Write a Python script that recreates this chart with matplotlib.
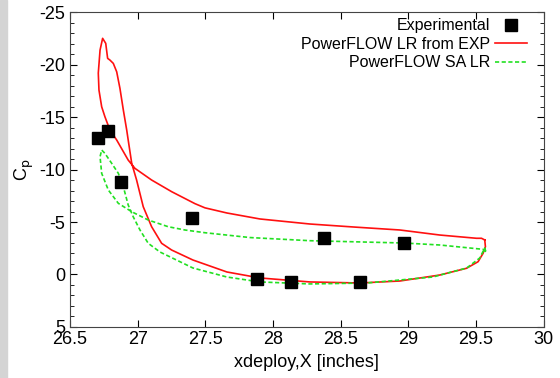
import matplotlib
matplotlib.use("Agg")
import matplotlib.pyplot as plt
from matplotlib.patches import Rectangle
import numpy as np

plt.rcParams['font.family'] = ['Liberation Sans', 'DejaVu Sans']
plt.rcParams['axes.unicode_minus'] = False

# experimental Cp points
exp_x = [26.707, 26.78, 26.877, 27.40, 27.88, 28.13, 28.38, 28.64, 28.97]
exp_cp = [-13.0, -13.67, -8.8, -5.38, 0.43, 0.71, -3.48, 0.71, -3.0]

# PowerFLOW LR from EXP (closed loop, TE -> upper -> LE -> lower -> TE)
lr_x = [29.564, 29.540, 29.503, 29.232, 28.937, 28.600, 28.272, 27.903, 27.659,
        27.497, 27.423, 27.251, 27.103, 26.980, 26.930, 26.845, 26.795, 26.758,
        26.734, 26.714, 26.709, 26.722, 26.741, 26.764, 26.778, 26.795, 26.820,
        26.845, 26.857, 26.869, 26.894, 26.919, 26.930, 26.956, 26.992, 27.041,
        27.103, 27.177, 27.251, 27.408, 27.659, 27.903, 28.272, 28.641, 28.937,
        29.232, 29.429, 29.515, 29.552, 29.569, 29.564]
lr_cp = [-3.29, -3.45, -3.45, -3.76, -4.24, -4.52, -4.81, -5.29, -5.86,
         -6.35, -6.75, -7.89, -9.0, -10.11, -10.90, -12.81, -13.76, -15.03,
         -15.98, -17.57, -19.19, -21.38, -22.50, -22.02, -20.59, -20.43, -20.11,
         -19.31, -18.52, -17.73, -15.67, -13.76, -12.81, -10.59, -9.0, -6.46,
         -4.55, -2.97, -2.33, -1.38, -0.24, 0.33, 0.71, 0.81, 0.62,
         0.05, -0.59, -1.22, -2.02, -2.65, -3.29]

# PowerFLOW SA LR
sa_x = [29.572, 29.550, 29.232, 28.966, 28.272, 27.829, 27.497, 27.349, 27.226,
        27.078, 26.956, 26.857, 26.783, 26.734, 26.722, 26.734, 26.758, 26.808,
        26.857, 26.894, 26.930, 26.967, 27.017, 27.078, 27.165, 27.408, 27.659,
        27.903, 28.272, 28.693, 29.180, 29.431, 29.527, 29.564, 29.572]
sa_cp = [-2.17, -2.40, -2.81, -3.00, -3.22, -3.52, -3.98, -4.24, -4.55,
         -5.19, -5.98, -6.78, -8.05, -9.64, -11.22, -11.86, -11.54, -10.59,
         -9.64, -8.36, -6.62, -5.50, -4.24, -2.97, -2.14, -0.62, 0.24,
         0.71, 0.90, 0.81, 0.24, -0.62, -1.57, -2.52, -2.17]

fig = plt.figure(figsize=(5.6, 3.78), dpi=100)
fig.patches.append(Rectangle((0, 0), 7/560, 1, transform=fig.transFigure,
                             color='#d4d4d4', zorder=-1))
ax = fig.add_axes([0.125, 0.135, 0.846, 0.833])

ax.plot(exp_x, exp_cp, 's', color='black', markersize=8.5, label='Experimental', zorder=3)
ax.plot(lr_x, lr_cp, '-', color='#ff1010', lw=1.2, label='PowerFLOW LR from EXP')
ax.plot(sa_x, sa_cp, color='#22e022', lw=1.2, linestyle=(0, (2.5, 1.5)),
        label='PowerFLOW SA LR')

ax.set_xlim(26.5, 30)
ax.set_ylim(5, -25)
ax.set_xticks(np.arange(26.5, 30.01, 0.5))
ax.set_xticklabels(['26.5', '27', '27.5', '28', '28.5', '29', '29.5', '30'])
ax.set_yticks(np.arange(-25, 5.1, 5))
ax.set_yticks(np.arange(-25, 5.1, 1), minor=True)
ax.tick_params(which='both', direction='in', top=True, right=True, labelsize=13)
ax.tick_params(which='major', length=5)
ax.tick_params(which='minor', length=3)
ax.tick_params(axis='x', pad=3)
for s in ax.spines.values():
    s.set_color('#444444')

ax.set_xlabel('xdeploy,X [inches]', fontsize=13, labelpad=4)
ax.set_ylabel(r'C$_\mathrm{p}$', fontsize=13, labelpad=2)

ax.legend(loc='upper right', bbox_to_anchor=(0.972, 0.99), frameon=False,
          markerfirst=False, fontsize=11.5, handlelength=2.0, handletextpad=0.35,
          labelspacing=0.22, borderaxespad=0, borderpad=0.2)

fig.savefig('out.png', dpi=100)
